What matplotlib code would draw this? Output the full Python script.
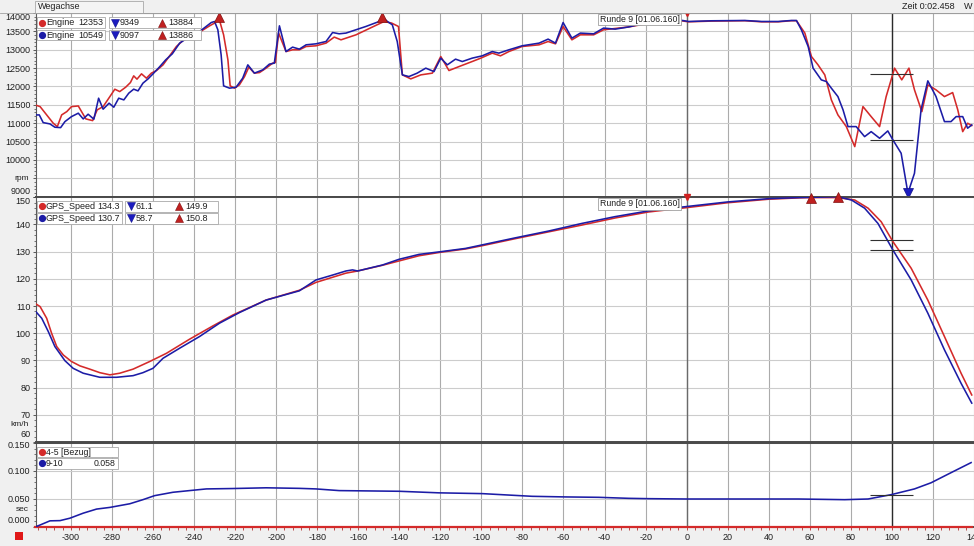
import matplotlib
matplotlib.use('Agg')
import matplotlib.pyplot as plt
from matplotlib.patches import Rectangle
from matplotlib.ticker import MultipleLocator
import matplotlib.transforms as mtransforms
import numpy as np

# ---------------- data ----------------
x_ticks = [-300, -280, -260, -240, -220, -200, -180, -160, -140, -120, -100, -80,
           -60, -40, -20, 0, 20, 40, 60, 80, 100, 120, 140]
x_tick_labels = [str(v) for v in x_ticks]

rpm_ticks = [9000, 9500, 10000, 10500, 11000, 11500, 12000, 12500, 13000, 13500, 14000]
rpm_tick_labels = ['9000', '', '10000', '10500', '11000', '11500', '12000', '12500', '13000', '13500', '14000']
speed_ticks = [60, 70, 80, 90, 100, 110, 120, 130, 140, 150]
speed_tick_labels = ['60', '70', '80', '90', '100', '110', '120', '130', '140', '150']
delta_ticks = [0.0, 0.05, 0.10, 0.15]
delta_tick_labels = ['0.000', '0.050', '0.100', '0.150']

rpm_red_x = [-317.5, -315, -311.8, -308.6, -306.6, -304.5, -302, -299.7, -296.4, -294.8, -292.7, -289.4,
             -287.2, -284.3, -281, -278.6, -276.2, -273.3, -271, -269.4, -267.8, -265.6, -263.2, -260.8,
             -258.3, -255.1, -251.9, -248.6, -245.4, -241, -237.3, -232.4, -229.5, -228, -225.6, -223.5,
             -222.4, -220.3, -217.9, -215.4, -213.3, -210.6, -208.1, -204.9, -201.7, -200.4, -198.8, -195.2,
             -192, -188.7, -185.4, -180.6, -175.7, -171.7, -168.4, -161.1, -149.8, -147.4, -143.7, -140.4,
             -138.5, -134.4, -129.5, -123.9, -119.8, -115.8, -110.9, -104.5, -100.3, -94.7, -90.7, -86.6,
             -80.2, -71.9, -67.5, -63.9, -60.2, -55.9, -51.8, -45.3, -40.5, -28.3, -20.3, -12.1, -4, 0.9,
             12.2, 28.4, 36.5, 44.6, 51, 53.5, 57.6, 60.8, 64, 67.3, 70.5, 73.7, 77.8, 81.9, 85.9, 89.9,
             94, 97.2, 101.3, 104.8, 108.3, 111, 114.6, 117.5, 121.5, 125.6, 129.6, 132.1, 134.5, 136.9, 138.9]
rpm_red = [11500, 11452, 11226, 11000, 10908, 11226, 11316, 11452, 11470, 11316, 11117, 11071,
           11363, 11452, 11725, 11926, 11861, 11981, 12107, 12289, 12199, 12344, 12226, 12363,
           12434, 12589, 12834, 13088, 13251, 13380, 13480, 13651, 13741, 13884, 13406, 12725,
           12017, 11954, 12044, 12270, 12526, 12363, 12379, 12499, 12635, 12651, 13453, 12951,
           12998, 12998, 13088, 13107, 13180, 13344, 13270, 13406, 13706, 13769, 13725, 13633,
           12316, 12207, 12316, 12363, 12815, 12434, 12542, 12679, 12771, 12908, 12834, 12951,
           13088, 13134, 13224, 13161, 13633, 13270, 13406, 13406, 13543, 13620, 13700, 13750, 13800, 13760,
           13780, 13790, 13760, 13760, 13790, 13790, 13453, 12815, 12589, 12316, 11635, 11226, 10908, 10363, 11453, 11180,
           10908, 11725, 12499, 12180, 12499, 11908, 11316, 12044, 11908, 11725, 11834, 11363, 10771, 11000, 10936]

rpm_blue_x = [-317.5, -315.4, -313.5, -310.2, -307.8, -305, -302.9, -299.7, -296.4, -294, -291.6, -288.8,
              -286.5, -284.3, -281.4, -279.1, -276.7, -274.2, -271.8, -269.4, -267.3, -264.9, -262.4, -260,
              -257.1, -253.8, -250.6, -247, -244.6, -241, -237.3, -231.6, -230, -228.4, -226.8, -225.6,
              -222.7, -219.5, -216.3, -213.8, -210.6, -206.5, -203.3, -200.9, -198.4, -195.2, -192, -188.7,
              -185.4, -180.6, -175.7, -172.5, -169.3, -166, -156.3, -149.8, -148.2, -145.8, -143.4, -141,
              -138.5, -135.3, -131.3, -127.1, -123.1, -119.8, -116.6, -112.6, -109.3, -104.5, -99.6, -94.7,
              -91.5, -86.6, -80.2, -71.9, -67.5, -63.9, -60.2, -55.9, -51.8, -45.3, -40.5, -34.8, -28.3,
              -20.3, -12.1, -4, 0.9, 12.2, 28.4, 36.5, 44.6, 51, 53.5, 55.9, 59.2, 61.6, 65.6, 68.1, 70.5,
              73.7, 76.2, 78.6, 82.6, 86.7, 89.9, 94, 98, 100.5, 104.5, 107.8, 111, 114.2, 117.5, 121.5,
              125.6, 128.8, 131.3, 134.5, 136.9, 138.9]
rpm_blue = [11226, 11226, 11017, 10981, 10891, 10880, 11044, 11180, 11273, 11117, 11245, 11109,
            11681, 11382, 11545, 11436, 11681, 11635, 11818, 11927, 11880, 12090, 12207, 12344,
            12515, 12725, 12889, 13180, 13270, 13380, 13496, 13741, 13769, 13543, 12861, 12017,
            11954, 11981, 12226, 12589, 12363, 12453, 12608, 12635, 13651, 12951, 13071, 13017,
            13134, 13161, 13224, 13469, 13434, 13453, 13633, 13769, 13886, 13769, 13679, 13224,
            12316, 12270, 12363, 12499, 12406, 12771, 12589, 12744, 12679, 12771, 12834, 12951,
            12908, 12998, 13107, 13180, 13289, 13180, 13741, 13316, 13453, 13434, 13589, 13561, 13620,
            13725, 13769, 13815, 13769, 13788, 13796, 13769, 13769, 13796, 13796, 13543, 13088, 12499, 12180, 12134, 11954,
            11725, 11363, 10908, 10908, 10635, 10771, 10591, 10790, 10545, 10183, 9097, 9638, 11363, 12153, 11725,
            11044, 11044, 11180, 11180, 10864, 10954]

speed_red_x = [-317.5, -315, -311.8, -309.4, -306.9, -303.7, -299.7, -295.6, -290.8, -285.9, -281, -276.2,
               -269.7, -261.6, -253.5, -242.2, -230.8, -221.1, -204.9, -188.7, -180.6, -166, -160.3, -148.2,
               -140.1, -130.4, -119.8, -107.7, -99.6, -83.4, -67.2, -51, -34.8, -18.6, 0, 20, 40, 55, 60.8,
               73.7, 81.9, 88.4, 94.8, 100.5, 109.4, 117.5, 125.6, 133.7, 138.9]
speed_red = [111, 109.8, 105.5, 100, 95.1, 92, 89.6, 88, 86.8, 85.5, 84.7, 85.3,
             86.8, 89.6, 92.6, 97.8, 102.7, 106.7, 112.2, 115.8, 118.7, 122.1, 122.9, 125,
             126.6, 128.5, 129.8, 131, 132.2, 134.8, 137.3, 139.8, 142.4, 144.6, 146.2, 148, 149.3, 149.8, 149.9,
             149.9, 149, 146, 141, 133.7, 123.9, 112.2, 98.8, 85.3, 77.3]

speed_blue_x = [-317.5, -314.2, -311, -307.8, -302.9, -298.9, -294, -285.9, -277.8, -269.7, -264.9, -260,
                -255.1, -247, -237.3, -227.6, -217.9, -204.9, -188.7, -180.6, -172.5, -166, -162.8, -160.3,
                -148.2, -140.1, -130.4, -119.8, -107.7, -99.6, -83.4, -67.2, -51, -34.8, -18.6, 0, 20, 40,
                55, 73.7, 80.3, 86.7, 93.2, 100.5, 109.4, 117.5, 125.6, 133.7, 138.9]
speed_blue = [108.3, 105.5, 100.6, 95.1, 89.9, 87.1, 85.3, 83.8, 83.8, 84.4, 85.5, 87.1,
              90.8, 94.5, 98.8, 103.7, 107.6, 112.2, 115.6, 119.6, 121.4, 122.9, 123.3, 122.9,
              125.1, 127.2, 129, 130, 131.2, 132.5, 135.1, 137.6, 140.4, 142.9, 145, 146.6, 148.3, 149.5,
              149.9, 150.2, 149, 146, 140.4, 130.6, 119.6, 107.4, 93.9, 81.6, 74.3]

delta_blue_x = [-317.5, -315, -310.2, -305.3, -300.5, -294, -287.5, -281, -271.3, -264.9, -259.2, -250.3,
                -240.6, -234, -221.1, -204.9, -188.7, -180.6, -169.3, -140.1, -120.7, -99.6, -75.3, -59.1,
                -42.9, -28.3, -18.6, 0, 54.3, 77, 88.4, 99.7, 111, 119.1, 128.8, 138.6]
delta_blue = [0.0, 0.0036, 0.011, 0.0114, 0.0157, 0.0247, 0.032, 0.035, 0.0415, 0.0488, 0.056, 0.062,
              0.0656, 0.068, 0.0687, 0.070, 0.069, 0.068, 0.065, 0.0638, 0.061, 0.0596, 0.0548, 0.0537,
              0.053, 0.0512, 0.0506, 0.050, 0.050, 0.0488, 0.050, 0.0578, 0.068, 0.079, 0.097, 0.115]
delta_red_x = [-317.5, 138.9]
delta_red = [0.0, 0.0]

cursor_x = 100
ref_x = 0
cursor_rpm = [12353, 10549]
cursor_speed = [134.3, 130.7]
cursor_delta = [0.058]

legend_rpm = [('Engine', '12353', '9349', '13884'), ('Engine', '10549', '9097', '13886')]
legend_speed = [('GPS_Speed', '134.3', '61.1', '149.9'), ('GPS_Speed', '130.7', '58.7', '150.8')]
legend_delta = [('4-5 [Bezug]', ''), ('9-10', '0.058')]
lap_label = 'Runde 9 [01.06.160]'

# ---------------- style ----------------
RED = '#d42a2a'
BLUE = '#1c1ca6'
BG = '#f0f0f0'
plt.rcParams['font.family'] = ['Liberation Sans', 'DejaVu Sans']
plt.rcParams['font.size'] = 6.5

W, H = 974, 546
fig = plt.figure(figsize=(W / 100, H / 100), dpi=100, facecolor=BG)


def fbox(l, t, r, b):
    return [l / W, 1 - b / H, (r - l) / W, (b - t) / H]


XMIN, XMAX = -317.0, 138.9

ax1 = fig.add_axes(fbox(36, 13, 974, 196.7))
ax2 = fig.add_axes(fbox(36, 197.3, 974, 442))
ax3 = fig.add_axes(fbox(36, 443, 974, 527))


def shift(label, dy_px):
    label.set_transform(label.get_transform() +
                        mtransforms.ScaledTranslation(0, dy_px / 100, fig.dpi_scale_trans))


def style(ax, yticks, ylabels, ylim, yminor):
    ax.set_facecolor('white')
    ax.set_xlim(XMIN, XMAX)
    ax.set_ylim(*ylim)
    ax.set_xticks(x_ticks)
    ax.xaxis.set_minor_locator(MultipleLocator(4))
    ax.set_yticks(yticks)
    ax.set_yticklabels(ylabels)
    ax.yaxis.set_minor_locator(MultipleLocator(yminor))
    ax.grid(True, which='major', axis='x', color='#ababab', lw=0.8)
    ax.grid(True, which='major', axis='y', color='#cccccc', lw=0.8)
    ax.set_axisbelow(True)
    ax.tick_params(axis='y', which='major', direction='out', length=2.5, width=0.6, pad=1.5,
                   labelsize=6.5, colors='#404040', labelcolor='#202020')
    ax.tick_params(axis='y', which='minor', direction='out', length=1.5, width=0.5, colors='#404040')
    for s in ['top', 'bottom']:
        ax.spines[s].set_color('#4a4a4a')
        ax.spines[s].set_linewidth(1.4)
    ax.spines['left'].set_color('#5a5a5a')
    ax.spines['left'].set_linewidth(0.8)
    ax.spines['right'].set_visible(False)
    return ax


style(ax1, rpm_ticks, rpm_tick_labels, (9000, 14000), 100)
style(ax2, speed_ticks, speed_tick_labels, (60, 150), 2)
style(ax3, delta_ticks, delta_tick_labels, (0, 0.15), 0.01)

l1 = ax1.get_yticklabels()
l1[0].set_va('bottom')
shift(l1[0], 1)
l1[-1].set_va('top')
l2 = ax2.get_yticklabels()
l2[0].set_va('bottom')
shift(l2[0], 3)
l2[-1].set_va('top')
l3 = ax3.get_yticklabels()
l3[0].set_va('bottom')
shift(l3[0], 2)
shift(l3[-1], -1.5)

ax1.spines['top'].set_color('#909090')
ax1.spines['top'].set_linewidth(0.8)

for ax in (ax1, ax2):
    ax.tick_params(axis='x', which='both', length=0, labelbottom=False)
ax3.tick_params(axis='x', which='major', direction='out', length=2.5, width=0.6, pad=2,
                labelsize=6.5, colors='#b03030', labelcolor='#202020')
ax3.tick_params(axis='x', which='minor', direction='out', length=2, width=0.6, colors='#b03030')
ax3.set_xticklabels(x_tick_labels)

# unit labels
for ax, y, txt in ((ax1, 9500, 'rpm'), (ax2, 66.6, 'km/h'), (ax3, 0.032, 'sec')):
    ax.text(-0.0075, y, txt, transform=ax.get_yaxis_transform(), ha='right', va='center',
            fontsize=6, color='#202020')

# ---------------- curves ----------------
LW = 1.15
ax1.plot(rpm_red_x, rpm_red, color=RED, lw=LW, zorder=3)
ax1.plot(rpm_blue_x, rpm_blue, color=BLUE, lw=LW, zorder=4)
ax2.plot(speed_red_x, speed_red, color=RED, lw=LW, zorder=3)
ax2.plot(speed_blue_x, speed_blue, color=BLUE, lw=LW, zorder=4)
ax3.plot(delta_red_x, delta_red, color=RED, lw=1.6, zorder=3, clip_on=False)
ax3.plot(delta_blue_x, delta_blue, color=BLUE, lw=LW, zorder=4)

# max / min markers
mk_up = dict(marker='^', ms=7, color='#c02020', mec='#801010', mew=0.5, zorder=6, clip_on=False)
mk_dn = dict(marker='v', ms=7, color='#1c1cc0', mec='#10108a', mew=0.5, zorder=6, clip_on=False)
i = int(np.argmax(rpm_red))
ax1.plot(rpm_red_x[i], rpm_red[i], **mk_up)
i = int(np.argmax(rpm_blue))
ax1.plot(rpm_blue_x[i], rpm_blue[i], **mk_up)
i = int(np.argmin(rpm_blue))
ax1.plot(rpm_blue_x[i], rpm_blue[i], **mk_dn)
i = int(np.argmax(speed_red))
ax2.plot(speed_red_x[i], speed_red[i], **mk_up)
i = int(np.argmax(speed_blue))
ax2.plot(speed_blue_x[i], speed_blue[i], **mk_up)

# reference / cursor vertical lines
for ax in (ax1, ax2, ax3):
    ax.axvline(ref_x, color='#6a6a6a', lw=1.0, zorder=2)
    ax.axvline(cursor_x, color='#2a2a2a', lw=1.0, zorder=2)
ax1.hlines(cursor_rpm, cursor_x - 10.5, cursor_x + 10.5, color='#303030', lw=0.8, zorder=5)
ax2.hlines(cursor_speed, cursor_x - 10.5, cursor_x + 10.5, color='#303030', lw=0.8, zorder=5)
ax3.hlines(cursor_delta, cursor_x - 10.5, cursor_x + 10.5, color='#303030', lw=0.8, zorder=5)

# lap label + red reference markers at top of x=0 line
for ax in (ax1, ax2):
    ax.plot([ref_x], [1.0], marker='v', ms=5, color='#d02020', transform=ax.get_xaxis_transform(),
            clip_on=False, zorder=7)
    ax.annotate(lap_label, xy=(ref_x, 1.0), xycoords=('data', 'axes fraction'),
                xytext=(-7, -2), textcoords='offset pixels', ha='right', va='top', fontsize=6.3,
                color='#202020', zorder=7,
                bbox=dict(boxstyle='square,pad=0.15', fc='white', ec='#a0a0a0', lw=0.6))

# ---------------- overlay (pixel coordinates) ----------------
ov = fig.add_axes([0, 0, 1, 1], zorder=20)
ov.set_xlim(0, W)
ov.set_ylim(H, 0)
ov.axis('off')
ov.patch.set_alpha(0)

# header bar
ov.add_patch(Rectangle((0, 0), W, 12.5, fc=BG, ec='none'))
ov.plot([0, W], [12.5, 12.5], color='#a0a0a0', lw=0.6)
ov.add_patch(Rectangle((35, 0.5), 108, 12, fc='#f4f4f4', ec='#a8a8a8', lw=0.6))
ov.text(38, 6.8, 'Wegachse', ha='left', va='center', fontsize=6.5, color='#202020')
ov.text(955, 6.8, 'Zeit 0:02.458', ha='right', va='center', fontsize=6.5, color='#202020')
ov.text(964, 6.8, 'W', ha='left', va='center', fontsize=6.5, color='#202020')

# bottom red square
ov.add_patch(Rectangle((15, 532), 7.5, 7.5, fc='#e01818', ec='none'))


def legend_rows(rows_y, rows, box1_r, box2_l, box2_r, tri_dx, val2_dx):
    for (ytop, ybot), row, col in zip(rows_y, rows, (RED, BLUE)):
        yc = (ytop + ybot) / 2
        ov.add_patch(Rectangle((37, ytop), box1_r - 37, ybot - ytop, fc='white', ec='#a8a8a8', lw=0.6))
        ov.plot([41.5], [yc], marker='o', ms=4.2, color=col, mec=col)
        ov.text(46, yc + 0.3, row[0], ha='left', va='center', fontsize=6.5, color='#202020')
        ov.text(box1_r - 2, yc + 0.3, row[1], ha='right', va='center', fontsize=6.5, color='#202020')
        ov.add_patch(Rectangle((box2_l, ytop), box2_r - box2_l, ybot - ytop, fc='white', ec='#a8a8a8', lw=0.6))
        ov.plot([box2_l + 6], [yc], marker='v', ms=6, color='#1c1cc0', mec='#10108a', mew=0.4)
        ov.text(box2_l + 11, yc + 0.3, row[2], ha='left', va='center', fontsize=6.5, color='#202020')
        ov.plot([box2_l + tri_dx], [yc], marker='^', ms=6, color='#c02020', mec='#801010', mew=0.4)
        ov.text(box2_l + val2_dx, yc + 0.3, row[3], ha='left', va='center', fontsize=6.5, color='#202020')


legend_rows([(17, 28), (29.5, 40)], legend_rpm, 105, 109, 201, 53, 59)
legend_rows([(201, 211.5), (213, 223.5)], legend_speed, 122, 125, 218, 54, 60)

# delta legend
for (ytop, ybot), row, col in zip([(446.5, 457), (458, 468.5)], legend_delta, (RED, BLUE)):
    yc = (ytop + ybot) / 2
    ov.add_patch(Rectangle((37, ytop), 81, ybot - ytop, fc='white', ec='#a8a8a8', lw=0.6))
    ov.plot([41.5], [yc], marker='o', ms=4.2, color=col, mec=col)
    ov.text(46, yc + 0.3, row[0], ha='left', va='center', fontsize=6.3, color='#202020')
    ov.text(116, yc + 0.3, row[1], ha='right', va='center', fontsize=6.3, color='#202020')

fig.savefig('out.png', dpi=100, facecolor=BG)
